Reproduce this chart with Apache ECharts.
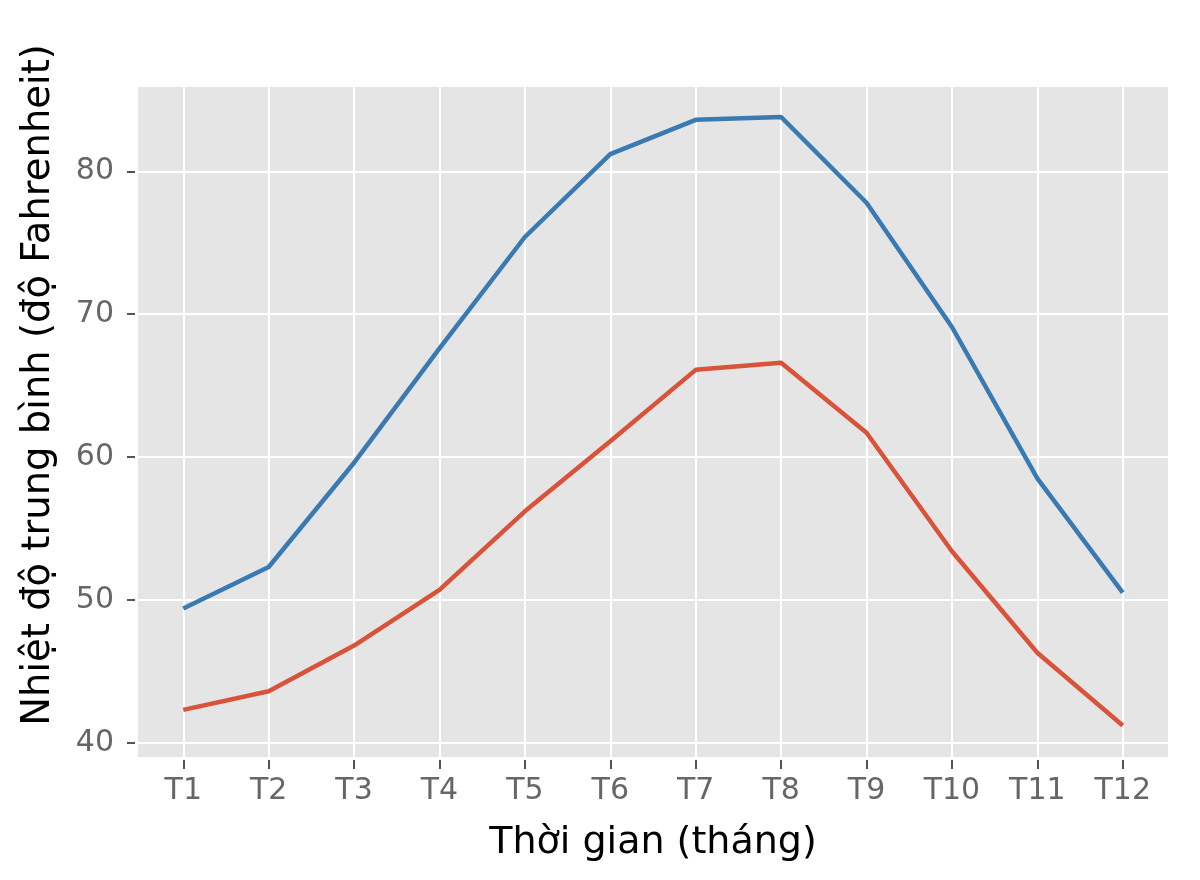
<!DOCTYPE html>
<html>
<head>
<meta charset="utf-8">
<script src="https://cdn.jsdelivr.net/npm/echarts@6/dist/echarts.min.js"></script>
<style>
html, body { margin: 0; padding: 0; background: #fff; }
#main { width: 1200px; height: 880px; }
</style>
</head>
<body>
<div id="main"></div>
<script>
// du lieu
var months = ['T1','T2','T3','T4','T5','T6','T7','T8','T9','T10','T11','T12'];
var monthPos = [1, 2, 3, 4, 5, 6, 7, 8, 9, 10, 11, 12];
var highTemp = [49.4, 52.3, 59.6, 67.6, 75.4, 81.2, 83.6, 83.8, 77.8, 69.1, 58.5, 50.5];
var lowTemp = [42.3, 43.6, 46.8, 50.7, 56.2, 61.1, 66.1, 66.6, 61.7, 53.4, 46.3, 41.2];
var yTicks = [40, 50, 60, 70, 80];

function pairs(vals) {
	return monthPos.map(function (p, i) { return [p, vals[i]]; });
}

var myChart = echarts.init(document.getElementById('main'));
var option = {
	backgroundColor: '#ffffff',
	animation: false,
	grid: {
		left: 138,
		right: 32,
		top: 87,
		bottom: 123,
		show: true,
		backgroundColor: '#E5E5E5',
		borderWidth: 0
	},
	graphic: [
		{
			type: 'text',
			x: 39,
			y: 385,
			rotation: Math.PI / 2,
			style: {
				text: 'Nhiệt độ trung bình (độ Fahrenheit)',
				fontFamily: 'DejaVu Sans',
				fontSize: 38.5,
				fill: '#000',
				align: 'center',
				verticalAlign: 'middle'
			}
		}
	],
	xAxis: {
		type: 'value',
		min: 0.47,
		max: 12.53,
		splitNumber: 12,
		offset: 3,
		name: 'Thời gian (tháng)',
		nameLocation: 'middle',
		nameGap: 64,
		nameTextStyle: { fontFamily: 'DejaVu Sans', fontSize: 38, color: '#000' },
		axisLine: { show: false },
		axisTick: { show: true, length: 9, customValues: monthPos, lineStyle: { color: '#555', width: 2 } },
		axisLabel: {
			fontFamily: 'DejaVu Sans', fontSize: 30, color: '#666', margin: 16,
			customValues: monthPos,
			formatter: function (v) { return months[Math.round(v) - 1] || ''; }
		},
		splitLine: { show: true, lineStyle: { color: '#fff', width: 2 } }
	},
	yAxis: {
		type: 'value',
		min: 39.0,
		max: 85.9,
		offset: 3,
		axisLine: { show: false },
		axisTick: { show: true, length: 8, customValues: yTicks, lineStyle: { color: '#555', width: 2 } },
		axisLabel: { fontFamily: 'DejaVu Sans', fontSize: 30, color: '#666', margin: 21, customValues: yTicks },
		splitLine: { show: true, lineStyle: { color: '#fff', width: 2 } }
	},
	series: [
		{
			name: 'Cao',
			type: 'line',
			data: pairs(highTemp),
			symbol: 'none',
			lineStyle: { color: '#3A7AB2', width: 4.5 }
		},
		{
			name: 'Thấp',
			type: 'line',
			data: pairs(lowTemp),
			symbol: 'none',
			lineStyle: { color: '#D9533A', width: 4.5 }
		}
	]
};
myChart.setOption(option, true);
</script>
</body>
</html>
